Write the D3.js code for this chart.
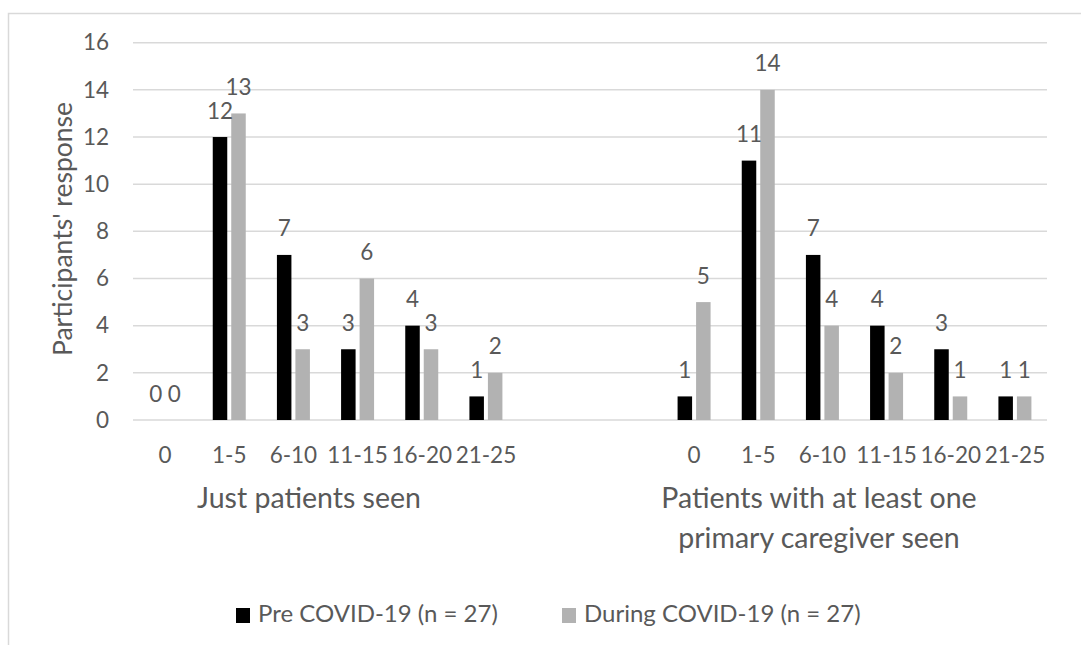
<!DOCTYPE html>
<html><head><meta charset="utf-8">
<script src="https://cdn.jsdelivr.net/npm/d3@7"></script>
<style>body{margin:0;background:#fff}svg{display:block}text{font-family:Lato,"Open Sans",sans-serif;fill:#595959}</style>
</head><body>
<script>
const categories = ["0","1-5","6-10","11-15","16-20","21-25"];
const groups = ["Just patients seen", "Patients with at least one primary caregiver seen"];
const seriesNames = ["Pre COVID-19 (n = 27)", "During COVID-19 (n = 27)"];
const preJust = [0,12,7,3,4,1];
const duringJust = [0,13,3,6,3,2];
const preCare = [1,11,7,4,3,1];
const duringCare = [5,14,4,2,1,1];
const yTicks = [0,2,4,6,8,10,12,14,16];
const colors = ["#000000","#b2b2b2"];

(function(){
const W=1081,H=645;
const svg=d3.select("body").append("svg").attr("width",W).attr("height",H);
svg.append("rect").attr("x",8.5).attr("y",13.5).attr("width",1200).attr("height",800)
  .attr("fill","none").attr("stroke","#d9d9d9").attr("stroke-width",1.5);

const pLeft=133,pRight=1047,pTop=42.7,pBottom=420;
const y=d3.scaleLinear().domain([0,16]).range([pBottom,pTop]);

svg.append("g").selectAll("line").data(yTicks).join("line")
  .attr("x1",pLeft).attr("x2",pRight).attr("y1",d=>y(d)).attr("y2",d=>y(d))
  .attr("stroke","#d9d9d9").attr("stroke-width",1.5);

const yAxis=svg.append("g").attr("transform",`translate(${pLeft},0)`)
  .call(d3.axisLeft(y).tickValues(yTicks).tickSize(0).tickPadding(24));
yAxis.select(".domain").remove();
yAxis.selectAll("text").attr("font-size",22.5).attr("font-family","Lato").attr("fill","#595959");

svg.append("text").attr("transform","translate(72,229) rotate(-90)").attr("text-anchor","middle")
  .attr("font-size",26.5).text("Participants' response");

const panels=[
  {range:[133,518], pre:preJust, during:duringJust, labelX:309, lines:[groups[0]]},
  {range:[662,1047], pre:preCare, during:duringCare, labelX:819, lines:["Patients with at least one","primary caregiver seen"]}
];
const inner=d3.scaleBand().domain([0,1]).range([-16.5,16.5]).paddingInner(0.216);

panels.forEach(p=>{
  const x=d3.scaleBand().domain(categories).range(p.range);
  const g=svg.append("g");
  const rows=[];
  categories.forEach((c,i)=>{rows.push({c,s:0,v:p.pre[i]});rows.push({c,s:1,v:p.during[i]});});
  g.selectAll("rect").data(rows).join("rect")
    .attr("x",d=>x(d.c)+x.bandwidth()/2+inner(d.s))
    .attr("width",inner.bandwidth())
    .attr("y",d=>y(d.v)).attr("height",d=>y(0)-y(d.v))
    .attr("fill",d=>colors[d.s]);
  g.selectAll("text.lbl").data(rows).join("text").attr("class","lbl")
    .attr("x",d=>x(d.c)+x.bandwidth()/2+inner(d.s)+inner.bandwidth()/2)
    .attr("y",d=>y(d.v)-18.5).attr("text-anchor","middle").attr("font-size",22.5)
    .text(d=>d.v);
  g.selectAll("text.cat").data(categories).join("text").attr("class","cat")
    .attr("x",d=>x(d)+x.bandwidth()/2).attr("y",463).attr("text-anchor","middle")
    .attr("font-size",22.5).text(d=>d);
  p.lines.forEach((t,i)=>{
    g.append("text").attr("x",p.labelX).attr("y",508+i*40).attr("text-anchor","middle")
      .attr("font-size",28.5).text(t);
  });
});

const leg=[{x:236},{x:562}];
seriesNames.forEach((n,i)=>{
  svg.append("rect").attr("x",leg[i].x).attr("y",608).attr("width",14).attr("height",15).attr("fill",colors[i]);
  svg.append("text").attr("x",leg[i].x+22).attr("y",622).attr("font-size",24).text(n);
});
})();
</script>
</body></html>
